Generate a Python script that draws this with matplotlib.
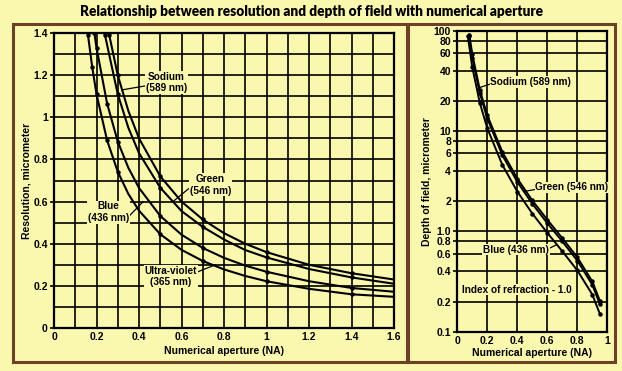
import matplotlib

matplotlib.use("Agg")
import matplotlib.pyplot as plt  # noqa: E402
from matplotlib.patches import Rectangle  # noqa: E402

BG = "#FAF7AE"
BORDER = "#6B4226"

# Resolution vs numerical aperture (left panel)
sodium_na = [0.26, 0.3, 0.35, 0.4, 0.5, 0.6, 0.7, 0.8, 0.9, 1.0, 1.2, 1.4, 1.6]
sodium_res = [1.39, 1.20, 1.03, 0.90, 0.72, 0.60, 0.515, 0.45, 0.40, 0.36, 0.30, 0.26, 0.23]
sodium_marks = [0.26, 0.3, 0.5, 0.7, 1.0, 1.4]

green_na = [0.24, 0.3, 0.35, 0.4, 0.5, 0.6, 0.7, 0.8, 0.9, 1.0, 1.2, 1.4, 1.6]
green_res = [1.39, 1.11, 0.95, 0.83, 0.666, 0.555, 0.48, 0.42, 0.37, 0.335, 0.28, 0.24, 0.21]
green_marks = [0.24, 0.3, 0.5, 0.7, 1.0, 1.4]

blue_na = [0.19, 0.2, 0.25, 0.3, 0.35, 0.4, 0.5, 0.6, 0.7, 0.8, 0.9, 1.0, 1.2, 1.4, 1.6]
blue_res = [1.40, 1.33, 1.065, 0.885, 0.76, 0.665, 0.532, 0.443, 0.38, 0.333, 0.296, 0.267, 0.222, 0.19, 0.172]
blue_marks = [0.19, 0.2, 0.25, 0.3, 0.5, 0.7, 1.0, 1.4]

uv_na = [0.16, 0.18, 0.2, 0.25, 0.3, 0.35, 0.4, 0.5, 0.6, 0.7, 0.8, 0.9, 1.0, 1.2, 1.4, 1.6]
uv_res = [1.39, 1.237, 1.11, 0.89, 0.742, 0.636, 0.557, 0.445, 0.371, 0.318, 0.278, 0.247, 0.222, 0.186, 0.16, 0.148]
uv_marks = [0.16, 0.18, 0.2, 0.25, 0.3, 0.5, 0.7, 1.0, 1.4]

# Depth of field vs numerical aperture (right panel)
dof_sodium_na = [0.08, 0.1, 0.15, 0.2, 0.3, 0.4, 0.5, 0.6, 0.7, 0.8, 0.9, 0.95]
dof_sodium = [92, 58.6, 25.9, 14.4, 6.24, 3.37, 2.04, 1.31, 0.858, 0.552, 0.317, 0.204]
dof_green_na = [0.078, 0.1, 0.15, 0.2, 0.3, 0.4, 0.5, 0.6, 0.7, 0.8, 0.9, 0.95]
dof_green = [89.5, 54.3, 24.0, 13.4, 5.78, 3.13, 1.89, 1.21, 0.796, 0.512, 0.294, 0.189]
dof_blue_na = [0.07, 0.1, 0.15, 0.2, 0.3, 0.4, 0.5, 0.6, 0.7, 0.8, 0.9, 0.95]
dof_blue = [88.8, 43.4, 19.2, 10.7, 4.62, 2.50, 1.51, 0.969, 0.635, 0.409, 0.235, 0.151]

left_xticks = [0, 0.2, 0.4, 0.6, 0.8, 1.0, 1.2, 1.4, 1.6]
left_xlabels = ["0", "0.2", "0.4", "0.6", "0.8", "1", "1.2", "1.4", "1.6"]
left_yticks = [0, 0.2, 0.4, 0.6, 0.8, 1.0, 1.2, 1.4]
left_ylabels = ["0", "0.2", "0.4", "0.6", "0.8", "1", "1.2", "1.4"]
right_xticks = [0, 0.2, 0.4, 0.6, 0.8, 1.0]
right_xlabels = ["0", "0.2", "0.4", "0.6", "0.8", "1"]
right_yticks = [0.1, 0.2, 0.4, 0.6, 0.8, 1, 2, 4, 6, 8, 10, 20, 40, 60, 80, 100]
right_ylabels = ["0.1", "0.2", "0.4", "0.6", "0.8", "1.0", "2", "4", "6", "8",
                 "10", "20", "40", "60", "80", "100"]

plt.rcParams["font.family"] = ["Liberation Sans", "DejaVu Sans"]
plt.rcParams["font.weight"] = "bold"

W, H = 622, 371
fig = plt.figure(figsize=(W / 100, H / 100), dpi=100, facecolor=BG)


def fx(px):
    return px / W


def fy(py):
    return 1 - py / H


# panel frames
for x0, x1 in [(13, 407), (408, 615)]:
    fig.patches.append(Rectangle((fx(x0), fy(362)), fx(x1 - x0), (362 - 24) / H,
                                 transform=fig.transFigure, fill=False,
                                 edgecolor=BORDER, lw=2.2))

fig.text(0.5, fy(12), "Relationship between resolution and depth of field with numerical aperture",
         ha="center", va="center", fontsize=9.8, fontweight="heavy", family="Lato")

box = dict(facecolor=BG, edgecolor="none", pad=0.6)
tick_fs = 7.5
lab_fs = 7.5
ann_fs = 7.2


def style(ax):
    ax.set_facecolor(BG)
    for s in ax.spines.values():
        s.set_linewidth(1.6)
        s.set_color("black")
    ax.tick_params(which="both", labelsize=tick_fs, length=3, width=1.2, pad=1.5)
    ax.tick_params(which="minor", length=0)
    ax.grid(True, which="both", color="black", lw=1.2)
    ax.set_axisbelow(True)


# left panel
ax = fig.add_axes([fx(54), fy(328), fx(394 - 54), (328 - 33) / H])
style(ax)
ax.set_xlim(0, 1.6)
ax.set_ylim(0, 1.4)
ax.set_xticks(left_xticks)
ax.set_xticklabels(left_xlabels)
ax.set_yticks(left_yticks)
ax.set_yticklabels(left_ylabels)
ax.set_xticks([i / 10 for i in range(17)], minor=True)
ax.set_yticks([i / 10 for i in range(15)], minor=True)
ax.tick_params(axis="x", length=0, pad=3)

for na, res, marks in [(sodium_na, sodium_res, sodium_marks),
                       (green_na, green_res, green_marks),
                       (blue_na, blue_res, blue_marks),
                       (uv_na, uv_res, uv_marks)]:
    idx = [i for i, v in enumerate(na) if v in marks]
    ax.plot(na, res, color="black", lw=1.5, marker="o", ms=2.2, markevery=idx, zorder=3)

arrow = dict(arrowstyle="-", color="black", lw=0.9, shrinkA=0, shrinkB=0)
ax.annotate("Sodium\n(589 nm)", xy=(0.32, 1.13), xytext=(0.53, 1.165), fontsize=ann_fs,
            ha="center", va="center", bbox=box, zorder=4,
            arrowprops=dict(arrow, relpos=(0.0, 0.35)))
ax.annotate("Green\n(546 nm)", xy=(0.56, 0.6), xytext=(0.735, 0.68), fontsize=ann_fs,
            ha="center", va="center", bbox=box, zorder=4,
            arrowprops=dict(arrow, relpos=(0.0, 0.35)))
ax.annotate("Blue\n(436 nm)", xy=(0.42, 0.6), xytext=(0.255, 0.55), fontsize=ann_fs,
            ha="center", va="center", bbox=box, zorder=4,
            arrowprops=dict(arrow, relpos=(1.0, 0.3)))
ax.annotate("Ultra-violet\n(365 nm)", xy=(0.76, 0.3), xytext=(0.55, 0.245), fontsize=ann_fs,
            ha="center", va="center", bbox=box, zorder=4,
            arrowprops=dict(arrow, relpos=(1.0, 0.7)))
ax.set_xlabel("Numerical aperture (NA)", fontsize=lab_fs, fontweight="bold")
ax.set_ylabel("Resolution, micrometer", fontsize=lab_fs, fontweight="bold")
ax.xaxis.set_label_coords(0.5, -0.06)
ax.yaxis.set_label_coords(-0.066, 0.5)

# right panel
ax2 = fig.add_axes([fx(457.3), fy(331.7), fx(150), 300.7 / H])
ax2.set_yscale("log")
style(ax2)
ax2.set_xlim(0, 1.0)
ax2.set_ylim(0.1, 100)
ax2.set_xticks(right_xticks)
ax2.set_xticklabels(right_xlabels)
ax2.set_yticks(right_yticks)
ax2.set_yticklabels(right_ylabels)
ax2.minorticks_off()
ax2.grid(True, which="major", color="black", lw=1.2)
ax2.tick_params(axis="x", length=0, pad=3)

for na, dof in [(dof_sodium_na, dof_sodium), (dof_green_na, dof_green), (dof_blue_na, dof_blue)]:
    ax2.plot(na, dof, color="black", lw=1.4, marker="o", ms=2.2, zorder=3)

ax2.annotate("Sodium (589 nm)", xy=(0.14, 27), xytext=(0.49, 31), fontsize=ann_fs,
             ha="center", va="center", bbox=box, zorder=4,
             arrowprops=dict(arrow, relpos=(0.0, 0.3)))
ax2.annotate("Green (546 nm)", xy=(0.44, 2.5), xytext=(0.765, 2.75), fontsize=ann_fs,
             ha="center", va="center", bbox=box, zorder=4,
             arrowprops=dict(arrow, relpos=(0.0, 0.3)))
ax2.annotate("Blue (436 nm)", xy=(0.665, 0.74), xytext=(0.39, 0.66), fontsize=ann_fs,
             ha="center", va="center", bbox=box, zorder=4,
             arrowprops=dict(arrow, relpos=(1.0, 0.6)))
ax2.text(0.4, 0.263, "Index of refraction - 1.0", fontsize=ann_fs, ha="center", va="center",
         bbox=box, zorder=4)
ax2.set_xlabel("Numerical aperture (NA)", fontsize=lab_fs, fontweight="bold")
ax2.set_ylabel("Depth of field, micrometer", fontsize=lab_fs, fontweight="bold")
ax2.xaxis.set_label_coords(0.5, -0.053)
ax2.yaxis.set_label_coords(-0.17, 0.5)

fig.savefig("out.png", dpi=100, facecolor=BG)
